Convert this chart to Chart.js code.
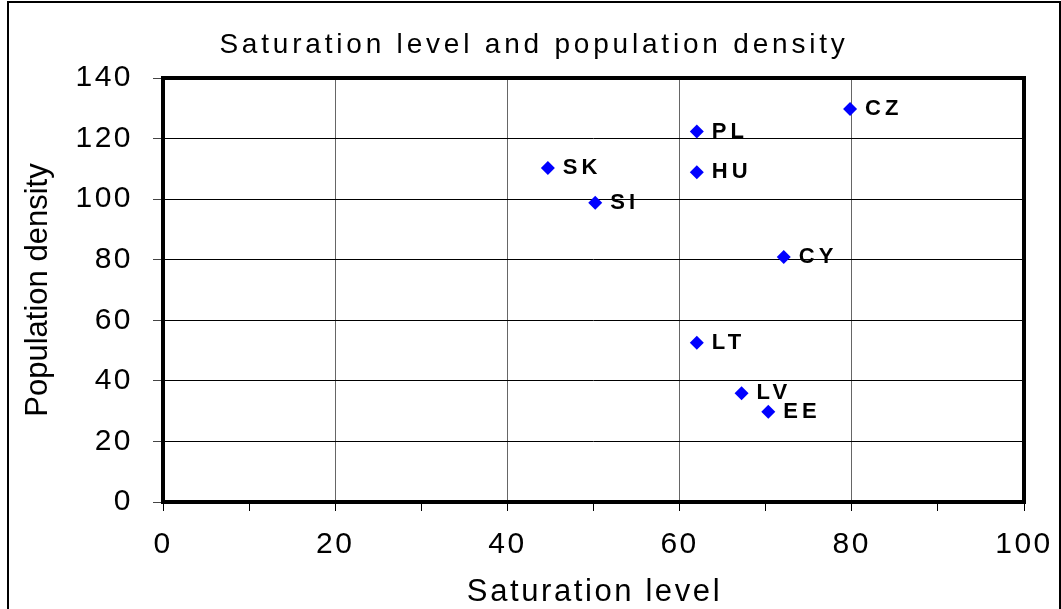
<!DOCTYPE html>
<html>
<head>
<meta charset="utf-8">
<script src="https://cdn.jsdelivr.net/npm/chart.js@4/dist/chart.umd.min.js"></script>
<style>
  body { margin: 0; background: #fff; }
  canvas { display: block; }
</style>
</head>
<body>
<canvas id="chart" width="1061" height="609"></canvas>
<script>
// country codes and their values
const countries = ["SK", "SI", "PL", "HU", "CZ", "CY", "LT", "LV", "EE"];
const saturation = [44.7, 50.2, 62.0, 62.0, 79.8, 72.1, 62.0, 67.2, 70.3];
const density = [110.3, 98.8, 122.3, 108.9, 129.8, 80.9, 52.6, 35.9, 29.8];

const chartTitle = "Saturation level and population density";
const xTitle = "Saturation level";
const yTitle = "Population density";

const FONT = "'Liberation Sans', Arial, sans-serif";

// frame, thick plot border, titles and point labels
const decor = {
  id: "decor",
  beforeDraw: (chart) => {
    const ctx = chart.ctx;
    ctx.save();
    ctx.fillStyle = "#fff";
    ctx.fillRect(0, 0, chart.width, chart.height);
    ctx.restore();
    // spacing for the tick labels drawn by the scales
    ctx.letterSpacing = "2.5px";
  },
  beforeDatasetsDraw: (chart) => {
    const ctx = chart.ctx;
    const a = chart.chartArea;
    ctx.save();
    ctx.strokeStyle = "#000";
    ctx.lineWidth = 4;
    ctx.strokeRect(a.left, a.top, a.right - a.left, a.bottom - a.top);
    ctx.restore();
  },
  afterDatasetsDraw: (chart) => {
    const ctx = chart.ctx;
    const meta = chart.getDatasetMeta(0);
    ctx.save();
    ctx.letterSpacing = "4px";
    ctx.font = "bold 22px " + FONT;
    ctx.fillStyle = "#000";
    ctx.textAlign = "left";
    ctx.textBaseline = "middle";
    meta.data.forEach((pt, i) => {
      ctx.fillText(countries[i], pt.x + 15, pt.y);
    });
    ctx.restore();
  },
  afterDraw: (chart) => {
    const ctx = chart.ctx;
    const a = chart.chartArea;
    ctx.save();
    ctx.fillStyle = "#000";
    ctx.textAlign = "center";
    ctx.textBaseline = "alphabetic";

    ctx.letterSpacing = "3.8px";
    ctx.font = "28px " + FONT;
    ctx.fillText(chartTitle, 534, 53);

    ctx.letterSpacing = "2.6px";
    ctx.font = "31px " + FONT;
    ctx.fillText(xTitle, (a.left + a.right) / 2 + 1, 601);

    ctx.letterSpacing = "0px";
    ctx.translate(47, (a.top + a.bottom) / 2);
    ctx.rotate(-Math.PI / 2);
    ctx.fillText(yTitle, 0, 0);
    ctx.restore();

    // outer frame
    ctx.save();
    ctx.strokeStyle = "#000";
    ctx.lineWidth = 2;
    ctx.strokeRect(8, 2, 1052, 700);
    ctx.restore();
    ctx.letterSpacing = "0px";
  },
};

new Chart(document.getElementById("chart"), {
  type: "scatter",
  data: {
    datasets: [
      {
        data: saturation.map((x, i) => ({ x: x, y: density[i] })),
        pointStyle: "rectRot",
        pointRadius: 7,
        pointHoverRadius: 7,
        backgroundColor: "#0000ff",
        borderColor: "#0000ff",
        borderWidth: 0,
      },
    ],
  },
  options: {
    responsive: false,
    animation: false,
    events: [],
    layout: { padding: { top: 78, right: 37, left: 0, bottom: 0 } },
    plugins: {
      legend: { display: false },
      title: { display: false },
      tooltip: { enabled: false },
    },
    scales: {
      x: {
        type: "linear",
        min: 0,
        max: 100,
        afterFit: (scale) => {
          scale.height = 107;
          scale.paddingLeft = 0;
          scale.paddingRight = 0;
        },
        border: { display: false },
        grid: {
          color: (c) =>
            c.tick && c.tick.value % 20 === 0 ? "#666" : "rgba(0,0,0,0)",
          tickColor: "#000",
          tickLength: 9,
          lineWidth: 1,
        },
        ticks: {
          stepSize: 10,
          padding: 16,
          color: "#000",
          font: { family: FONT, size: 30 },
          maxRotation: 0,
          autoSkip: false,
          callback: (v) => (v % 20 === 0 ? v : ""),
        },
      },
      y: {
        type: "linear",
        min: 0,
        max: 140,
        afterFit: (scale) => {
          scale.width = 163;
          scale.paddingTop = 0;
          scale.paddingBottom = 0;
        },
        border: { display: false },
        grid: {
          color: "#000",
          tickColor: "#444",
          tickLength: 10,
          lineWidth: 1,
        },
        ticks: {
          stepSize: 20,
          padding: 20,
          color: "#000",
          font: { family: FONT, size: 30 },
        },
      },
    },
  },
  plugins: [decor],
});
</script>
</body>
</html>
